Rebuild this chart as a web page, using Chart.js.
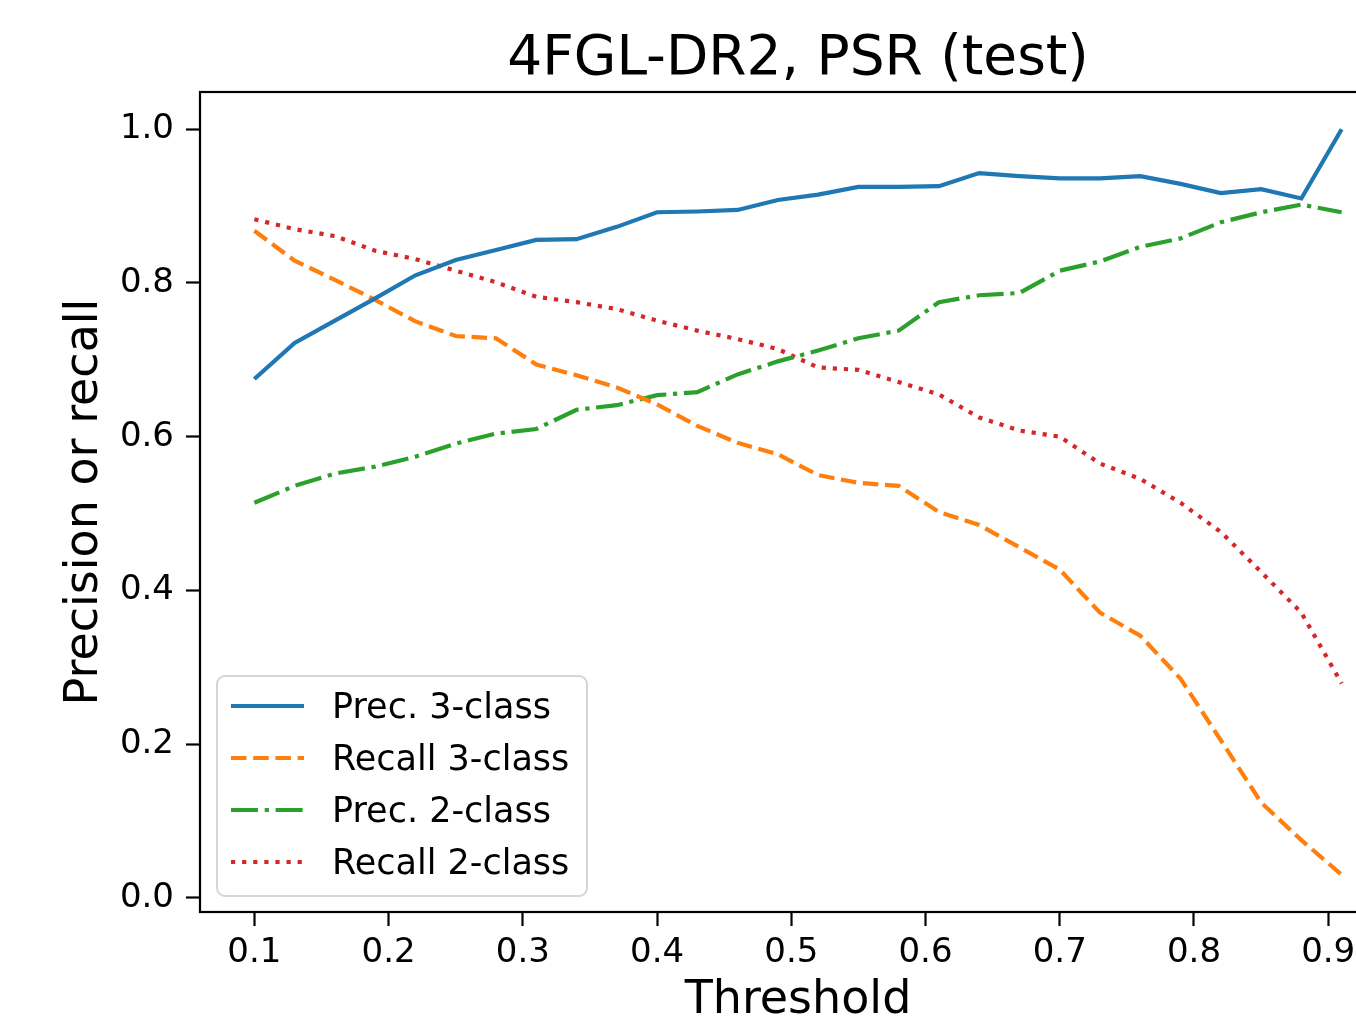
<!DOCTYPE html>
<html>
<head>
<meta charset="utf-8">
<title>4FGL-DR2, PSR (test)</title>
<script src="https://cdn.jsdelivr.net/npm/chart.js@4.4.0/dist/chart.umd.min.js"></script>
<style>
  html, body { margin: 0; padding: 0; background: #fff; overflow: hidden; }
  #wrap { width: 1356px; height: 1026px; overflow: hidden; }
  canvas { display: block; }
</style>
</head>
<body>
<div id="wrap"><canvas id="myChart" width="1440" height="1026"></canvas></div>
<script>
const thresholds = [0.10, 0.13, 0.16, 0.19, 0.22, 0.25, 0.28, 0.31, 0.34, 0.37,
                    0.40, 0.43, 0.46, 0.49, 0.52, 0.55, 0.58, 0.61, 0.64, 0.67,
                    0.70, 0.73, 0.76, 0.79, 0.82, 0.85, 0.88, 0.91];
const prec3 = [0.675, 0.722, 0.751, 0.780, 0.810, 0.830, 0.843, 0.856, 0.857, 0.873,
               0.892, 0.893, 0.895, 0.908, 0.915, 0.925, 0.925, 0.926, 0.943, 0.939,
               0.936, 0.936, 0.939, 0.929, 0.917, 0.922, 0.910, 1.000];
const recall3 = [0.868, 0.829, 0.804, 0.778, 0.750, 0.731, 0.728, 0.694, 0.680, 0.664,
                 0.642, 0.614, 0.592, 0.577, 0.550, 0.540, 0.536, 0.502, 0.485, 0.456,
                 0.427, 0.371, 0.341, 0.285, 0.205, 0.124, 0.075, 0.030];
const prec2 = [0.514, 0.536, 0.552, 0.561, 0.574, 0.591, 0.604, 0.610, 0.635, 0.641,
               0.654, 0.658, 0.681, 0.698, 0.712, 0.728, 0.738, 0.775, 0.784, 0.787,
               0.816, 0.828, 0.847, 0.858, 0.879, 0.892, 0.902, 0.892];
const recall2 = [0.883, 0.870, 0.861, 0.842, 0.831, 0.816, 0.801, 0.782, 0.775, 0.766,
                 0.751, 0.738, 0.727, 0.714, 0.690, 0.687, 0.671, 0.655, 0.625, 0.608,
                 0.600, 0.565, 0.545, 0.514, 0.476, 0.424, 0.371, 0.279];
const xTicks = [0.1, 0.2, 0.3, 0.4, 0.5, 0.6, 0.7, 0.8, 0.9];
const yTicks = [0.0, 0.2, 0.4, 0.6, 0.8, 1.0];

const FONT = 'DejaVu Sans';
const LW = 4.2;

function points(ys) {
    return thresholds.map((t, i) => ({ x: t, y: ys[i] }));
}

function series(label, ys, color, dash) {
    return {
        label: label,
        data: points(ys),
        borderColor: color,
        backgroundColor: color,
        borderWidth: LW,
        borderDash: dash,
        borderCapStyle: 'butt',
        pointRadius: 0,
        tension: 0,
        fill: false
    };
}

// axes box on all four sides
const frame = {
    id: 'frame',
    afterDatasetsDraw(chart) {
        const { ctx, chartArea: a } = chart;
        ctx.save();
        ctx.strokeStyle = '#000';
        ctx.lineWidth = 2.2;
        ctx.strokeRect(a.left, a.top, a.right - a.left, a.bottom - a.top);
        ctx.restore();
    }
};

// boxed legend in the lower left corner of the plot
const legendBox = {
    id: 'legendBox',
    afterDatasetsDraw(chart) {
        const { ctx, chartArea: a } = chart;
        const sets = chart.data.datasets;
        const w = 370, h = 220, rowH = 52;
        const x0 = a.left + 17, y0 = a.bottom - 16 - h;
        ctx.save();
        ctx.beginPath();
        ctx.roundRect(x0, y0, w, h, 8);
        ctx.fillStyle = 'rgba(255,255,255,0.8)';
        ctx.fill();
        ctx.strokeStyle = '#d5d5d5';
        ctx.lineWidth = 2;
        ctx.stroke();
        ctx.font = '35px "' + FONT + '"';
        ctx.textBaseline = 'middle';
        sets.forEach((ds, i) => {
            const y = y0 + 30 + i * rowH;
            ctx.beginPath();
            ctx.setLineDash(ds.borderDash || []);
            ctx.strokeStyle = ds.borderColor;
            ctx.lineWidth = ds.borderWidth;
            ctx.lineCap = 'butt';
            ctx.moveTo(x0 + 14, y);
            ctx.lineTo(x0 + 87, y);
            ctx.stroke();
            ctx.setLineDash([]);
            ctx.fillStyle = '#000';
            ctx.fillText(ds.label, x0 + 115, y + 3);
        });
        ctx.restore();
    }
};

const data = {
    datasets: [
        series('Prec. 3-class', prec3, '#1f77b4', []),
        series('Recall 3-class', recall3, '#ff7f0e', [15.5, 6.7]),
        series('Prec. 2-class', prec2, '#2ca02c', [27, 6.7, 4.2, 6.7]),
        series('Recall 2-class', recall2, '#d62728', [4.2, 6.9])
    ]
};

const config = {
    type: 'line',
    data: data,
    options: {
        responsive: false,
        animation: false,
        devicePixelRatio: 1,
        layout: { padding: { left: 0, right: 44, top: 0, bottom: 0 } },
        plugins: {
            legend: { display: false },
            tooltip: { enabled: false },
            title: {
                display: true,
                text: '4FGL-DR2, PSR (test)',
                color: '#000',
                fullSize: false,
                font: { family: FONT, size: 55, weight: 'normal' },
                padding: { top: 27, bottom: -1 }
            }
        },
        scales: {
            x: {
                type: 'linear',
                min: 0.0595,
                max: 0.9505,
                afterBuildTicks: (scale) => { scale.ticks = xTicks.map(v => ({ value: v })); },
                afterFit: (scale) => { scale.height = 114; },
                border: { display: false },
                grid: { display: true, drawOnChartArea: false, drawTicks: true, tickLength: 14, tickWidth: 2.2, tickColor: '#000' },
                ticks: {
                    color: '#000',
                    padding: 7,
                    maxRotation: 0,
                    font: { family: FONT, size: 34 },
                    callback: (v) => v.toFixed(1)
                },
                title: {
                    display: true,
                    text: 'Threshold',
                    color: '#000',
                    font: { family: FONT, size: 46 },
                    padding: { top: 0, bottom: -3 }
                }
            },
            y: {
                min: -0.0185,
                max: 1.0485,
                afterBuildTicks: (scale) => { scale.ticks = yTicks.map(v => ({ value: v })); },
                afterFit: (scale) => { scale.width = 200; },
                border: { display: false },
                grid: { display: true, drawOnChartArea: false, drawTicks: true, tickLength: 14, tickWidth: 2.2, tickColor: '#000' },
                ticks: {
                    color: '#000',
                    padding: 12,
                    font: { family: FONT, size: 34 },
                    callback: (v) => v.toFixed(1)
                },
                title: {
                    display: true,
                    text: 'Precision or recall',
                    color: '#000',
                    font: { family: FONT, size: 46 },
                    padding: { top: 57, bottom: 0 }
                }
            }
        }
    },
    plugins: [frame, legendBox]
};

const ctx = document.getElementById('myChart').getContext('2d');
const myChart = new Chart(ctx, config);
</script>
</body>
</html>
